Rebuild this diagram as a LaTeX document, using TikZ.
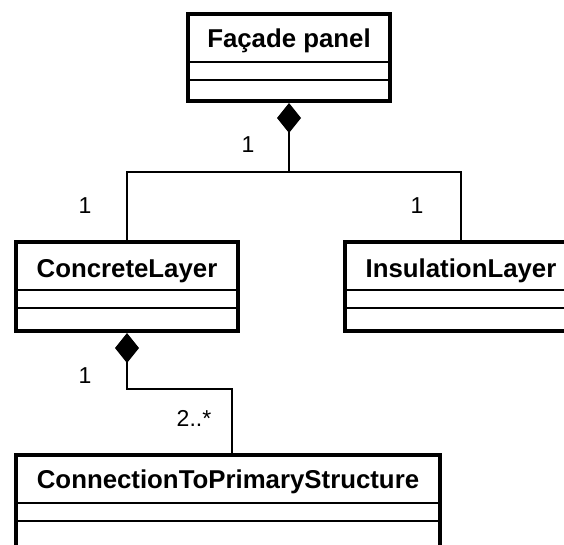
\documentclass[tikz,border=0pt]{standalone}
\usepackage{fontspec}
\setmainfont{Liberation Sans}
\usetikzlibrary{positioning,calc,arrows.meta}

\begin{document}
\begin{tikzpicture}[x=1pt,y=-1pt,
		classbox/.style={draw, line width=4pt, inner sep=0pt, minimum height=89pt},
		classname/.style={anchor=base, inner sep=0pt, font=\fontsize{25.8}{31}\selectfont\bfseries},
		compart/.style={line width=1.6pt},
		assoc/.style={line width=1.5pt},
		compose/.style={line width=1.5pt, -{Diamond[length=30pt,width=24pt]}},
		mult/.style={anchor=base, inner sep=0pt, font=\fontsize{23}{27}\selectfont}]
				\clip (0,0) rectangle (564,544);
				% classes
				\node[classbox, minimum width=202pt, minimum height=87pt] (panel) at (289, 57.5) {};
				\node[classbox, minimum width=222pt] (concrete) at (127, 286.5) {};
				\node[classbox, minimum width=232pt] (insul) at (461, 286.5) {};
				\node[classbox, minimum width=424pt, minimum height=96pt] (conn) at (228, 503) {};
				\node[classname] (panelname) at ([yshift=-35pt]panel.north) {Façade panel};
				\node[classname] (concretename) at ([yshift=-37pt]concrete.north) {ConcreteLayer};
				\node[classname] (insulname) at ([yshift=-37pt]insul.north) {InsulationLayer};
				\node[classname] (connname) at ([yshift=-35pt]conn.north) {ConnectionToPrimaryStructure};
				\foreach \c in {panel,concrete,insul,conn} {
					\draw[compart] ([yshift=-50pt]\c.north west) -- ([yshift=-50pt]\c.north east);
					\draw[compart] ([yshift=-68pt]\c.north west) -- ([yshift=-68pt]\c.north east);
				}
				% connectors
				\coordinate (hub) at (289, 172);
				\coordinate (bend) at (127, 389);
				\draw[assoc] (concrete.north) |- (hub) -| (insul.north);
				\draw[compose] (hub) -- (panel.south);
				\draw[compose] ([xshift=4pt]conn.north) |- (bend) -- (concrete.south);
				% multiplicities
				\node[mult] (m1) at (248, 152) {1};
				\node[mult] (m2) at (85, 213) {1};
				\node[mult] (m3) at (417, 213) {1};
				\node[mult] (m4) at (85, 383) {1};
				\node[mult] (m5) at (194, 426) {2..*};
\end{tikzpicture}
\end{document}
